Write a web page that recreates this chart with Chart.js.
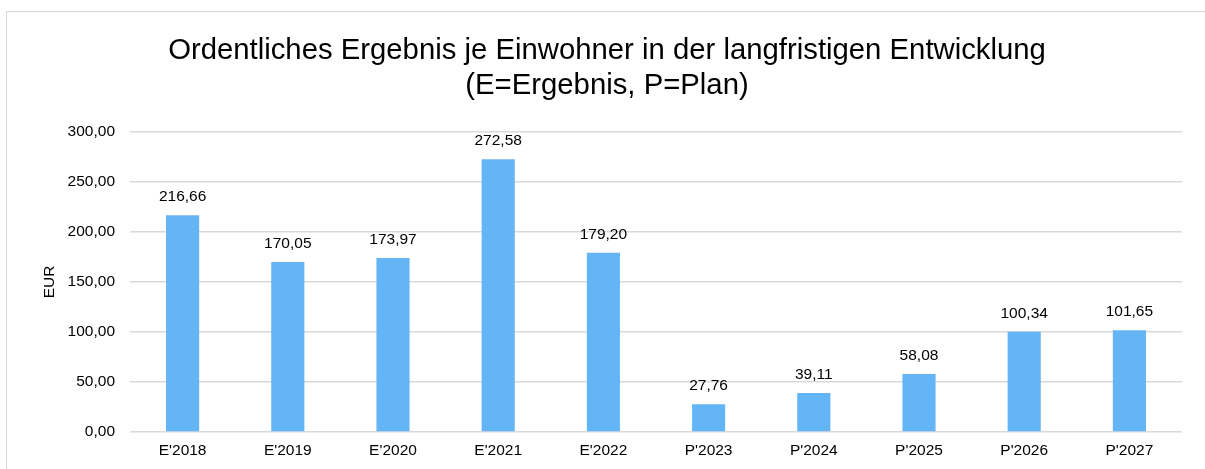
<!DOCTYPE html>
<html>
<head>
<meta charset="utf-8">
<script src="https://cdn.jsdelivr.net/npm/chart.js@4/dist/chart.umd.min.js"></script>
<style>
  body { margin: 0; background: #fff; overflow: hidden; width: 1205px; height: 469px; position: relative; }
  #frame { position: absolute; left: 6px; top: 11px; width: 1230px; height: 500px; border: 1.5px solid #d9d9d9; box-sizing: border-box; }
  #wrap { position: absolute; left: 7px; top: 12px; width: 1200px; height: 457px; }
</style>
</head>
<body>
<div id="frame"></div>
<div id="wrap"><canvas id="chart"></canvas></div>
<script>
// data
const categories = ["E'2018", "E'2019", "E'2020", "E'2021", "E'2022", "P'2023", "P'2024", "P'2025", "P'2026", "P'2027"];
const values = [216.66, 170.05, 173.97, 272.58, 179.20, 27.76, 39.11, 58.08, 100.34, 101.65];
const titleLines = ["Ordentliches Ergebnis je Einwohner in der langfristigen Entwicklung", "(E=Ergebnis, P=Plan)"];
const yTitle = "EUR";

const fontFamily = "'Liberation Sans', Arial, sans-serif";

function fmt(v){
    return v.toFixed(2).replace(".", ",");
}

// draws the value above each bar
const valueLabels = {
    id: "valueLabels",
    afterDatasetsDraw(chart){
        const ctx = chart.ctx;
        const meta = chart.getDatasetMeta(0);
        ctx.save();
        ctx.font = "15.5px " + fontFamily;
        ctx.fillStyle = "#000";
        ctx.textAlign = "center";
        ctx.textBaseline = "alphabetic";
        meta.data.forEach((bar, i) => {
            ctx.fillText(fmt(values[i]), bar.x, bar.y - 14);
        });
        ctx.restore();
    }
};

new Chart(document.getElementById("chart"), {
    type: "bar",
    data: {
        labels: categories,
        datasets: [{
            data: values,
            backgroundColor: "#64b5f6",
            barPercentage: 0.315,
            categoryPercentage: 1
        }]
    },
    options: {
        responsive: true,
        maintainAspectRatio: false,
        animation: false,
        layout: { padding: { left: 25, right: 25, top: 0, bottom: 0 } },
        plugins: {
            legend: { display: false },
            tooltip: { enabled: false },
            title: {
                display: true,
                text: titleLines,
                color: "#000",
                font: { family: fontFamily, size: 29.3, weight: "normal", lineHeight: 1.18 },
                padding: { top: 22, bottom: 28.8 }
            }
        },
        scales: {
            x: {
                grid: { display: false, drawTicks: false },
                border: { display: false },
                ticks: { color: "#000", padding: 9, font: { family: fontFamily, size: 15.5 } },
                afterFit(scale){ scale.height = 37; }
            },
            y: {
                min: 0,
                max: 300,
                grid: { color: "#d9d9d9", lineWidth: 1.5, drawTicks: false },
                border: { display: false },
                ticks: {
                    stepSize: 50,
                    color: "#000",
                    padding: 15,
                    font: { family: fontFamily, size: 15.5 },
                    callback: v => fmt(v)
                },
                title: {
                    display: true,
                    text: yTitle,
                    color: "#000",
                    font: { family: fontFamily, size: 15.5 },
                    padding: { top: 8, bottom: 0 }
                },
                afterFit(scale){ scale.width = 98; }
            }
        }
    },
    plugins: [valueLabels]
});
</script>
</body>
</html>
